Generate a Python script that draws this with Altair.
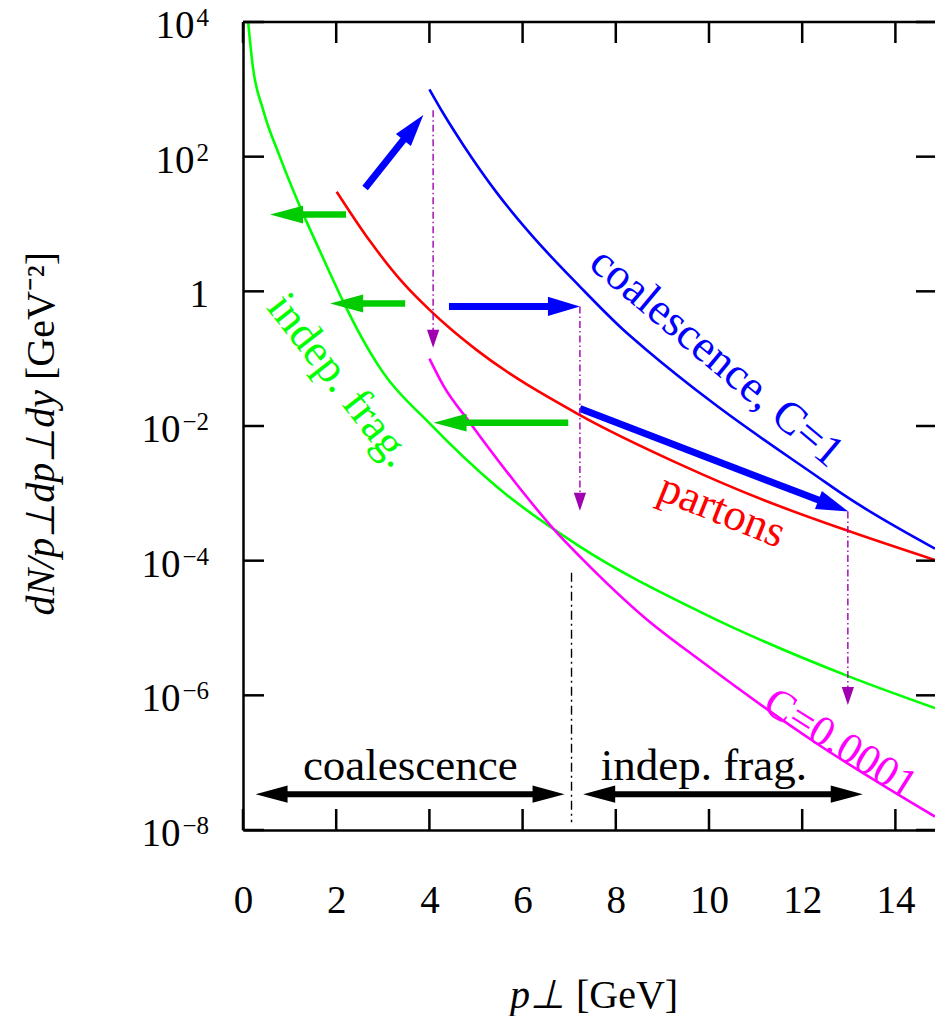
import math
import altair as alt
import pandas as pd

# ---------------- values ----------------
# p_perp [GeV] and dN/(p dp dy) [GeV^-2]
p_indep = [0.11, 0.21, 0.43, 0.79, 1.26, 1.65, 2.15, 2.44, 3.0, 4.0, 5.44, 7.23, 9.81, 13.0, 14.85]
dn_indep = [1.0e4, 2190, 501, 100, 15.8, 3.98, 0.708, 0.282, 0.0631, 0.011,
            1.26e-3, 1.62e-4, 1.74e-5, 1.91e-6, 6.46e-7]

p_partons = [2.01, 2.72, 3.44, 4.01, 4.44, 5.01, 7.23, 9.38, 11.17, 12.95, 14.85]
dn_partons = [30.2, 5.62, 1.32, 0.525, 0.282, 0.135, 0.0145, 2.69e-3, 7.94e-4, 2.82e-4, 1.02e-4]

p_coal1 = [4.0, 4.3, 4.73, 5.44, 6.16, 7.23, 8.16, 8.66, 10.09, 12.32, 12.95, 14.85]
dn_coal1 = [1000, 437, 148, 29.5, 7.24, 1.175, 0.269, 0.135, 0.0219, 1.78e-3, 8.91e-4, 1.51e-4]

p_coal4 = [4.0, 4.3, 4.87, 5.8, 6.73, 7.23, 8.66, 9.81, 12.32, 14.85]
dn_coal4 = [0.1, 0.0398, 0.0112, 1.58e-3, 2.63e-4, 1.15e-4, 1.35e-5, 3.31e-6, 1.91e-7, 1.58e-8]

x_ticks = [0, 2, 4, 6, 8, 10, 12, 14]
y_ticks = [1e-8, 1e-6, 1e-4, 1e-2, 1, 1e2, 1e4]
y_bases = ["10", "10", "10", "10", "1", "10", "10"]
y_powers = ["−8", "−6", "−4", "−2", "", "2", "4"]

# annotation arrows: (tail p, tail dN, tip p, tip dN)
green_arrows = [(2.21, 13.8, 0.58, 13.8), (3.48, 0.66, 1.87, 0.66), (6.98, 0.0112, 4.09, 0.0112)]
blue_arrows = [(2.62, 34.3, 3.87, 417.0), (4.42, 0.596, 7.23, 0.596), (7.23, 0.0182, 12.99, 5.37e-4)]
purple_arrows = [(4.08, 490.0, 4.08, 0.145), (7.23, 0.596, 7.23, 5.5e-4), (12.98, 5.37e-4, 12.98, 7.2e-7)]
region_arrows = [(0.27, 6.90), (7.30, 13.30)]
region_arrow_dn = 3.4e-8
divider = (7.05, 6.6e-5, 1.3e-8)

# ---------------- layout constants ----------------
FONT = "Liberation Serif"
XMAX = 14.85
W, H = 692, 808
LMIN, LMAX = -8, 4
LABEL_SIZE = 45


def to_px(x, y):
    return x * W / XMAX, (LMAX - math.log10(y)) * H / (LMAX - LMIN)


def from_px(px, py):
    return px * XMAX / W, 10 ** (LMAX - py * (LMAX - LMIN) / H)


xs = alt.Scale(domain=[0, XMAX], nice=False, zero=False)
ys = alt.Scale(type="log", domain=[1e-8, 1e4], nice=False)

x_axis = alt.Axis(values=x_ticks, grid=False, ticks=False, tickSize=0, domain=True,
                  domainColor="black", domainWidth=2.5, labelFont=FONT, labelFontSize=39,
                  labelColor="black", labelPadding=82, labelBaseline="alphabetic",
                  labelFlush=False, labelOverlap=False, title=None)
y_axis = alt.Axis(values=y_ticks, grid=False, ticks=False, tickSize=0, domain=True,
                  domainColor="black", domainWidth=2.5, labels=False, title=None)


def X(f):
    return alt.X(f, type="quantitative", scale=xs, axis=x_axis)


def Y(f):
    return alt.Y(f, type="quantitative", scale=ys, axis=y_axis)


def curve(xv, yv, color):
    df = pd.DataFrame({"p": xv, "dn": yv})
    return alt.Chart(df).mark_line(color=color, strokeWidth=2.6, interpolate="monotone",
                                   clip=True).encode(x=X("p"), y=Y("dn"))


def head_shape(ratio):
    return f"M0,0L{ratio},1L-{ratio},1Z"


def arrows(specs, color, width, head_len, ratio, dash=None, both=False):
    shafts, heads = [], []
    for (x0, y0, x1, y1) in specs:
        p0, p1 = to_px(x0, y0), to_px(x1, y1)
        dx, dy = p1[0] - p0[0], p1[1] - p0[1]
        d = math.hypot(dx, dy)
        ux, uy = dx / d, dy / d
        cut = head_len * 0.8
        ex, ey = from_px(p1[0] - ux * cut, p1[1] - uy * cut)
        ang = (math.degrees(math.atan2(dx, -dy)) + 360) % 360
        heads.append({"p": x1, "dn": y1, "ang": ang})
        sx, sy = x0, y0
        if both:
            sx, sy = from_px(p0[0] + ux * cut, p0[1] + uy * cut)
            heads.append({"p": x0, "dn": y0, "ang": (ang + 180) % 360})
        shafts.append({"p": sx, "dn": sy, "p2": ex, "dn2": ey})
    rule_kw = dict(color=color, strokeWidth=width)
    if dash:
        rule_kw["strokeDash"] = dash
    shaft = alt.Chart(pd.DataFrame(shafts)).mark_rule(**rule_kw).encode(
        x=X("p"), y=Y("dn"), x2=alt.X2("p2"), y2=alt.Y2("dn2"))
    head = alt.Chart(pd.DataFrame(heads)).mark_point(
        shape=head_shape(ratio), filled=True, size=4 * head_len ** 2, color=color,
        opacity=1, strokeWidth=0).encode(
        x=X("p"), y=Y("dn"), angle=alt.Angle("ang:Q", scale=None))
    return [shaft, head]


def label(text, p, dn, color, angle=0, size=LABEL_SIZE, align="center", baseline="middle"):
    df = pd.DataFrame({"t": [text], "p": [p], "dn": [dn]})
    kw = dict(font=FONT, fontSize=size, color=color, align=align, baseline=baseline)
    if angle:
        kw["angle"] = angle
    return alt.Chart(df).mark_text(**kw).encode(x=X("p"), y=Y("dn"), text="t:N")


def px_text(text, x, y, angle=0, size=40, style="normal", align="center", baseline="alphabetic"):
    df = pd.DataFrame({"t": [text]})
    kw = dict(font=FONT, fontSize=size, color="black", align=align, baseline=baseline,
              fontStyle=style)
    if angle:
        kw["angle"] = angle
    return alt.Chart(df).mark_text(**kw).encode(x=alt.value(x), y=alt.value(y), text="t:N")


layers = []
layers.append(curve(p_indep, dn_indep, "#00ff00"))
layers.append(curve(p_partons, dn_partons, "#ff0000"))
layers.append(curve(p_coal1, dn_coal1, "#0000ff"))
layers.append(curve(p_coal4, dn_coal4, "#ff00ff"))

layers += arrows(green_arrows, "#00cc00", 6.5, 33, 0.27)
layers += arrows(blue_arrows, "#0000ff", 7, 32, 0.3)
layers += arrows(purple_arrows, "#a000b0", 1.4, 18, 0.34, dash=[7, 3, 1.5, 3])
layers += arrows([(a, region_arrow_dn, b, region_arrow_dn) for a, b in region_arrows],
                 "black", 6, 32, 0.27, both=True)

div_df = pd.DataFrame({"p": [divider[0]], "dn": [divider[1]], "dn2": [divider[2]]})
layers.append(alt.Chart(div_df).mark_rule(color="black", strokeWidth=1.4,
                                          strokeDash=[9, 4, 2, 4]).encode(
    x=X("p"), y=Y("dn"), y2=alt.Y2("dn2")))

# in-plot labels
layers.append(label("coalescence", 3.59, 5.5e-8, "black", baseline="alphabetic"))
layers.append(label("indep. frag.", 9.89, 5.5e-8, "black", baseline="alphabetic"))
layers.append(label("coalescence, C=1", 10.17, 0.106, "#0000ff", angle=40))
layers.append(label("partons", 10.28, 5.6e-4, "#ff0000", angle=22))
layers.append(label("indep. frag.", 2.08, 0.048, "#00ff00", angle=52))
layers.append(label("C=0.0001", 12.82, 1.9e-7, "#ff00ff", angle=32, size=43))

# frame: top line and inward ticks
layers.append(alt.Chart(pd.DataFrame({"t": [0]})).mark_rule(color="black", strokeWidth=2.5).encode(
    x=alt.value(0), x2=alt.value(W), y=alt.value(0)))
xt = pd.DataFrame({"p": x_ticks})
yt = pd.DataFrame({"dn": y_ticks})
tick_kw = dict(color="black", strokeWidth=2.5)
layers.append(alt.Chart(xt).mark_rule(**tick_kw).encode(x=X("p"), y=alt.value(0), y2=alt.value(21)))
layers.append(alt.Chart(xt).mark_rule(**tick_kw).encode(x=X("p"), y=alt.value(H), y2=alt.value(H - 21)))
layers.append(alt.Chart(yt).mark_rule(**tick_kw).encode(y=Y("dn"), x=alt.value(0), x2=alt.value(21)))
layers.append(alt.Chart(yt).mark_rule(**tick_kw).encode(y=Y("dn"), x=alt.value(W - 19), x2=alt.value(W)))

# y tick labels: base "10" plus raised exponent
BASE_SIZE, EXP_SIZE = 39, 25
LABEL_RIGHT = -34
for v, base, pw in zip(y_ticks, y_bases, y_powers):
    df = pd.DataFrame({"dn": [v], "b": [base], "e": [pw]})
    exp_w = sum(0.564 * EXP_SIZE if ch == "−" else 0.5 * EXP_SIZE for ch in pw)
    base_right = LABEL_RIGHT - (exp_w + 2 if pw else 0)
    layers.append(alt.Chart(df).mark_text(font=FONT, fontSize=BASE_SIZE, color="black",
                                          align="right", baseline="alphabetic", dy=16).encode(
        x=alt.value(base_right), y=Y("dn"), text="b:N"))
    if pw:
        layers.append(alt.Chart(df).mark_text(font=FONT, fontSize=EXP_SIZE, color="black",
                                              align="right", baseline="alphabetic", dy=4).encode(
            x=alt.value(LABEL_RIGHT), y=Y("dn"), text="e:N"))

# axis titles (mixed italic / upright)
layers.append(px_text("dN/p⊥dp⊥dy", -201, 368, angle=270, style="italic", align="right",
                      baseline="middle"))
layers.append(px_text("[GeV⁻²]", -201, 358, angle=270, align="left", baseline="middle"))
layers.append(px_text("p⊥", 322, 986, style="italic", align="right"))
layers.append(px_text("[GeV]", 333, 986, align="left"))

chart = alt.layer(*layers).properties(
    width=W, height=H,
    padding={"left": 243, "top": 22, "right": 0, "bottom": 186},
    autosize=alt.AutoSizeParams(type="none"),
).configure_view(stroke=None)

chart.save("out.html", embed_options={"renderer": "svg", "actions": False})
